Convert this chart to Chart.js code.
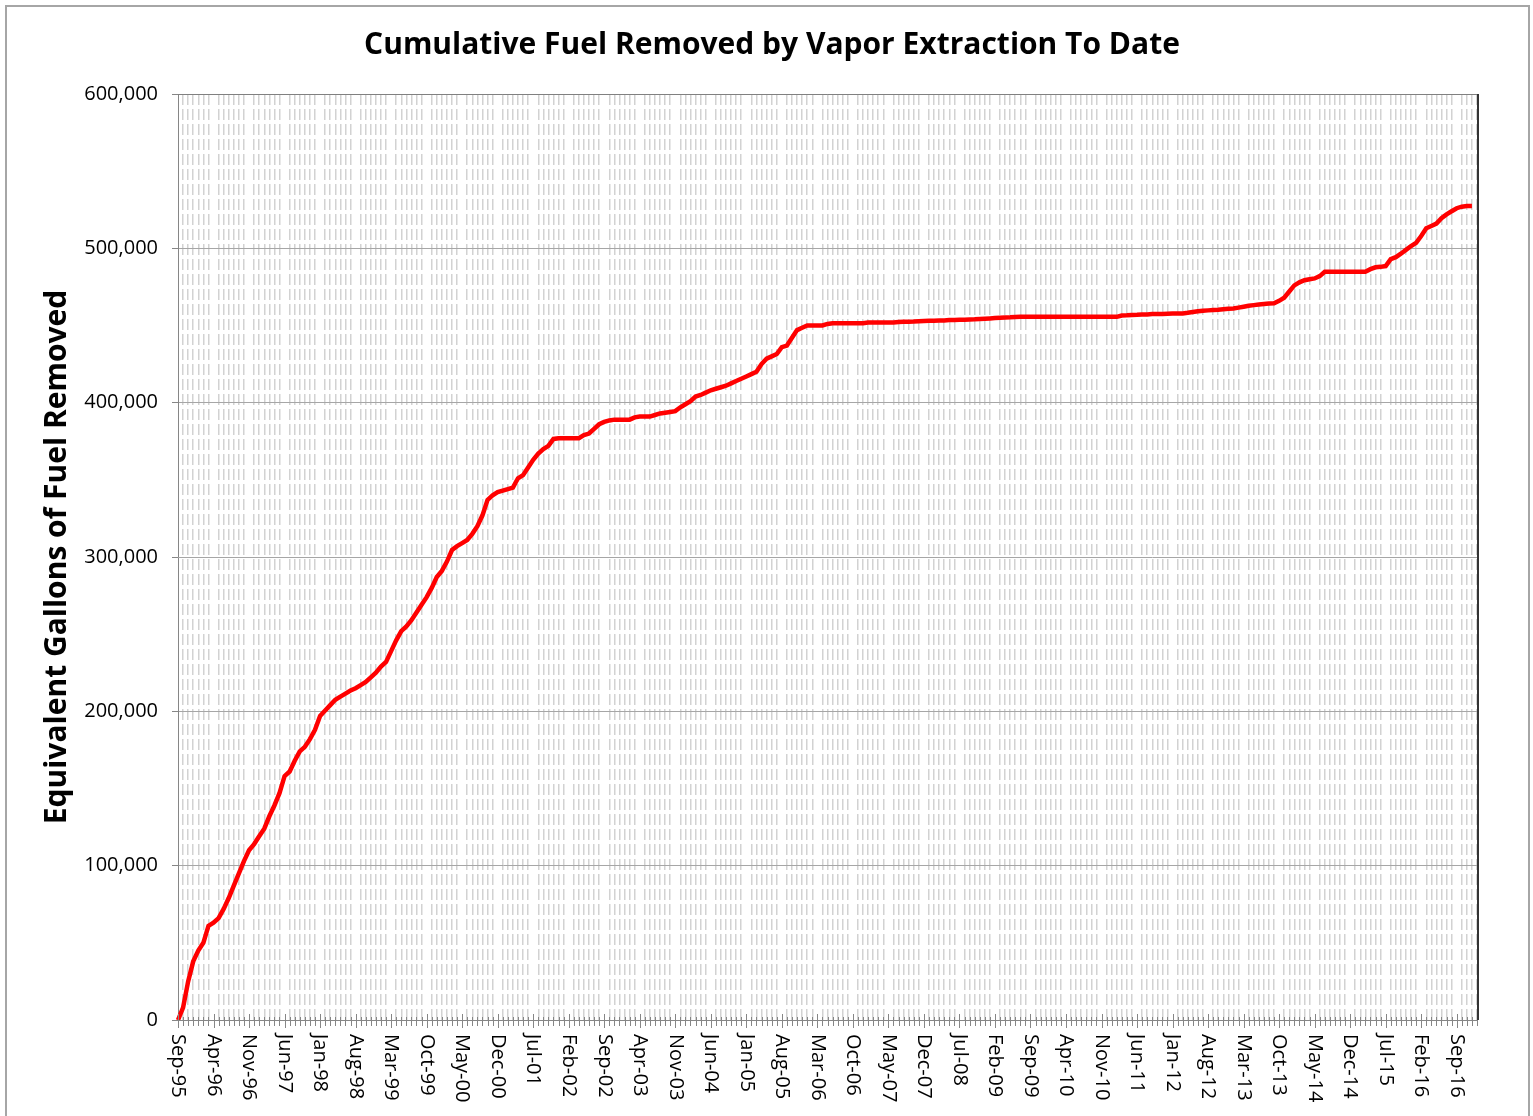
<!DOCTYPE html>
<html>
<head>
<meta charset="utf-8">
<script src="https://cdn.jsdelivr.net/npm/chart.js@4/dist/chart.umd.min.js"></script>
<style>
  html, body { margin: 0; padding: 0; background: #fff; }
  #frame { position: absolute; left: 5px; top: 5px; width: 1521px; height: 1120px; border: 2px solid #a6a6a6; border-bottom: none; }
  #wrap { position: absolute; left: 0; top: 0; width: 1533px; height: 1116px; }
</style>
</head>
<body>
<div id="frame"></div>
<div id="wrap"><canvas id="fuelChart"></canvas></div>
<script>
// monthly categories, Sep-95 .. Jan-17
const months = [
  'Sep-95','Oct-95','Nov-95','Dec-95',
  'Jan-96','Feb-96','Mar-96','Apr-96','May-96','Jun-96','Jul-96','Aug-96','Sep-96','Oct-96','Nov-96','Dec-96',
  'Jan-97','Feb-97','Mar-97','Apr-97','May-97','Jun-97','Jul-97','Aug-97','Sep-97','Oct-97','Nov-97','Dec-97',
  'Jan-98','Feb-98','Mar-98','Apr-98','May-98','Jun-98','Jul-98','Aug-98','Sep-98','Oct-98','Nov-98','Dec-98',
  'Jan-99','Feb-99','Mar-99','Apr-99','May-99','Jun-99','Jul-99','Aug-99','Sep-99','Oct-99','Nov-99','Dec-99',
  'Jan-00','Feb-00','Mar-00','Apr-00','May-00','Jun-00','Jul-00','Aug-00','Sep-00','Oct-00','Nov-00','Dec-00',
  'Jan-01','Feb-01','Mar-01','Apr-01','May-01','Jun-01','Jul-01','Aug-01','Sep-01','Oct-01','Nov-01','Dec-01',
  'Jan-02','Feb-02','Mar-02','Apr-02','May-02','Jun-02','Jul-02','Aug-02','Sep-02','Oct-02','Nov-02','Dec-02',
  'Jan-03','Feb-03','Mar-03','Apr-03','May-03','Jun-03','Jul-03','Aug-03','Sep-03','Oct-03','Nov-03','Dec-03',
  'Jan-04','Feb-04','Mar-04','Apr-04','May-04','Jun-04','Jul-04','Aug-04','Sep-04','Oct-04','Nov-04','Dec-04',
  'Jan-05','Feb-05','Mar-05','Apr-05','May-05','Jun-05','Jul-05','Aug-05','Sep-05','Oct-05','Nov-05','Dec-05',
  'Jan-06','Feb-06','Mar-06','Apr-06','May-06','Jun-06','Jul-06','Aug-06','Sep-06','Oct-06','Nov-06','Dec-06',
  'Jan-07','Feb-07','Mar-07','Apr-07','May-07','Jun-07','Jul-07','Aug-07','Sep-07','Oct-07','Nov-07','Dec-07',
  'Jan-08','Feb-08','Mar-08','Apr-08','May-08','Jun-08','Jul-08','Aug-08','Sep-08','Oct-08','Nov-08','Dec-08',
  'Jan-09','Feb-09','Mar-09','Apr-09','May-09','Jun-09','Jul-09','Aug-09','Sep-09','Oct-09','Nov-09','Dec-09',
  'Jan-10','Feb-10','Mar-10','Apr-10','May-10','Jun-10','Jul-10','Aug-10','Sep-10','Oct-10','Nov-10','Dec-10',
  'Jan-11','Feb-11','Mar-11','Apr-11','May-11','Jun-11','Jul-11','Aug-11','Sep-11','Oct-11','Nov-11','Dec-11',
  'Jan-12','Feb-12','Mar-12','Apr-12','May-12','Jun-12','Jul-12','Aug-12','Sep-12','Oct-12','Nov-12','Dec-12',
  'Jan-13','Feb-13','Mar-13','Apr-13','May-13','Jun-13','Jul-13','Aug-13','Sep-13','Oct-13','Nov-13','Dec-13',
  'Jan-14','Feb-14','Mar-14','Apr-14','May-14','Jun-14','Jul-14','Aug-14','Sep-14','Oct-14','Nov-14','Dec-14',
  'Jan-15','Feb-15','Mar-15','Apr-15','May-15','Jun-15','Jul-15','Aug-15','Sep-15','Oct-15','Nov-15','Dec-15',
  'Jan-16','Feb-16','Mar-16','Apr-16','May-16','Jun-16','Jul-16','Aug-16','Sep-16','Oct-16','Nov-16','Dec-16',
  'Jan-17'
];

// cumulative gallons removed, one value per month from Sep-95
const gallons = [
  0, 8000, 25000, 38000,
  45000, 50000, 61000, 63000, 66000, 72000, 79000, 87000, 95000, 103000, 110000, 114000,
  119000, 124000, 132000, 139000, 147000, 158000, 161000, 168000, 174000, 177000, 182000, 188000,
  197000, 200500, 204000, 207500, 209500, 211500, 213500, 215000, 217000, 219000, 222000, 225000,
  229000, 232000, 239000, 246000, 252000, 255000, 259000, 264000, 269000, 274000, 280000, 287000,
  291000, 297000, 304500, 307000, 309000, 311000, 315000, 320000, 327000, 337000, 340000, 342000,
  343000, 344000, 345000, 351000, 353000, 358000, 363000, 367000, 370000, 372000, 376500, 377000,
  377000, 377000, 377000, 377000, 379000, 380000, 383000, 386000, 387500, 388500, 389000, 389000,
  389000, 389000, 390500, 391000, 391000, 391000, 392000, 393000, 393500, 394000, 394500, 397000,
  399000, 401000, 404000, 405000, 406500, 408000, 409000, 410000, 411000, 412500, 414000, 415500,
  417000, 418500, 420000, 425000, 428500, 430000, 431500, 436000, 437000, 442000, 447000, 448500,
  450000, 450000, 450000, 450000, 451000, 451500, 451500, 451500, 451500, 451500, 451500, 451500,
  452000, 452000, 452000, 452000, 452000, 452000, 452200, 452400, 452500, 452600, 452800, 452900,
  453000, 453100, 453200, 453300, 453500, 453600, 453700, 453800, 453900, 454000, 454200, 454400,
  454600, 454800, 455000, 455200, 455300, 455500, 455600, 455600, 455600, 455600, 455600, 455600,
  455600, 455600, 455600, 455600, 455600, 455600, 455600, 455600, 455600, 455600, 455600, 455600,
  455600, 455600, 456500, 456600, 456800, 456900, 457100, 457200, 457400, 457400, 457500, 457600,
  457700, 457800, 457800, 458200, 458700, 459200, 459600, 459800, 460000, 460200, 460500, 460800,
  461000, 461600, 462200, 462800, 463200, 463600, 463900, 464200, 464400, 466000, 468000, 472000,
  476000, 478000, 479300, 480000, 480500, 482000, 484800, 484800, 484800, 484800, 484800, 484800,
  484800, 484800, 484800, 486500, 487700, 488000, 488500, 493000, 494300, 496500, 499000, 501500,
  503600, 508000, 513000, 514500, 516000, 519500, 522000, 524000, 526000, 527000, 527400, 527400
];

const labelStep = 7;   // a date label every 7 months
const chartTitle = 'Cumulative Fuel Removed by Vapor Extraction To Date';
const fontFamily = "'Open Sans', 'Noto Sans', sans-serif";

// title, month tick marks, rotated date labels and the plot frame
const monthAxis = {
  id: 'monthAxis',
  afterDraw(chart) {
    const ctx = chart.ctx;
    const xs = chart.scales.x;
    const area = chart.chartArea;
    ctx.save();

    ctx.fillStyle = '#000';
    ctx.font = 'bold 30px ' + fontFamily;
    ctx.textAlign = 'center';
    ctx.textBaseline = 'middle';
    ctx.fillText(chartTitle, 772, 45);

    ctx.strokeStyle = '#868686';
    ctx.lineWidth = 1;
    ctx.beginPath();
    ctx.moveTo(area.left, area.bottom + 0.5);
    ctx.lineTo(area.right, area.bottom + 0.5);
    ctx.stroke();
    months.forEach((m, i) => {
      const px = Math.round(xs.getPixelForValue(i)) + 0.5;
      const major = i % labelStep === 0;
      ctx.beginPath();
      ctx.moveTo(px, area.bottom - (major ? 6 : 3));
      ctx.lineTo(px, area.bottom + (major ? 8 : 6));
      ctx.stroke();
    });

    ctx.font = '20px ' + fontFamily;
    ctx.textAlign = 'left';
    months.forEach((m, i) => {
      if (i % labelStep !== 0) return;
      ctx.save();
      ctx.translate(xs.getPixelForValue(i), area.bottom + 14);
      ctx.rotate(Math.PI / 2);
      ctx.fillText(m, 0, 0);
      ctx.restore();
    });

    ctx.strokeStyle = '#808080';
    ctx.beginPath();
    ctx.moveTo(area.left, area.top + 0.5);
    ctx.lineTo(area.right, area.top + 0.5);
    ctx.stroke();
    ctx.strokeStyle = '#333';
    ctx.lineWidth = 2;
    ctx.beginPath();
    ctx.moveTo(area.right + 1, area.top);
    ctx.lineTo(area.right + 1, area.bottom);
    ctx.stroke();
    ctx.restore();
  }
};

const ctx = document.getElementById('fuelChart').getContext('2d');
const chart = new Chart(ctx, {
  type: 'line',
  data: {
    labels: months,
    datasets: [{
      label: 'Cumulative Fuel Removed',
      data: gallons,
      borderColor: '#ff0000',
      borderWidth: 4.5,
      pointRadius: 0,
      tension: 0,
      fill: false
    }]
  },
  options: {
    responsive: true,
    maintainAspectRatio: false,
    animation: false,
    layout: { padding: { left: 0, right: 56, top: 94, bottom: 0 } },
    plugins: {
      legend: { display: false },
      tooltip: { enabled: false },
      title: { display: false }
    },
    scales: {
      x: {
        type: 'category',
        afterFit: s => { s.height = 96; },
        ticks: { display: false, autoSkip: false },
        grid: {
          drawTicks: false,
          lineWidth: 1.5,
          color: c => (c.index % labelStep === 0 ? 'rgba(0,0,0,0)' : '#d2d2d2')
        },
        border: { display: false, dash: [11, 4] }
      },
      y: {
        min: 0,
        max: 600000,
        afterFit: s => { s.width = 178; },
        ticks: {
          stepSize: 100000,
          color: '#000',
          padding: 14,
          font: { family: fontFamily, size: 20 },
          callback: v => v.toLocaleString('en-US')
        },
        grid: { color: '#a6a6a6', lineWidth: 1, tickLength: 6, tickColor: '#868686' },
        border: { color: '#868686', width: 1 },
        title: {
          display: true,
          text: 'Equivalent Gallons of Fuel Removed',
          color: '#000',
          font: { family: fontFamily, size: 30, weight: 'bold' },
          padding: { top: 39, bottom: 0 }
        }
      }
    }
  },
  plugins: [monthAxis]
});
</script>
</body>
</html>
